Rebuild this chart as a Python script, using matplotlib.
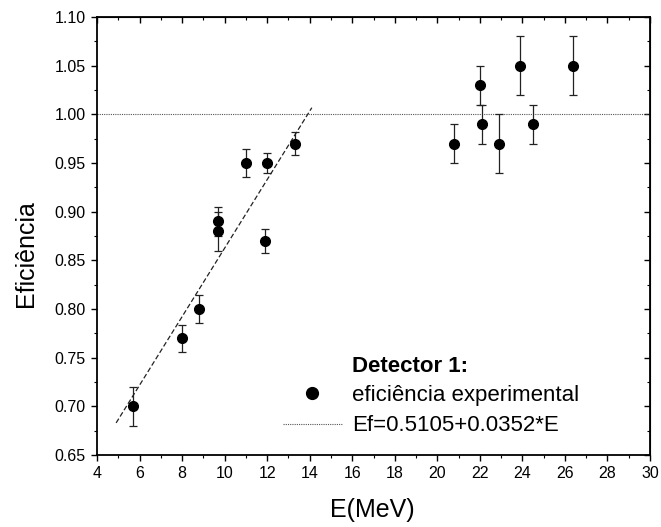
import matplotlib
matplotlib.use("Agg")
import matplotlib.pyplot as plt
from matplotlib.lines import Line2D
from matplotlib.ticker import MultipleLocator, FormatStrFormatter
import numpy as np

plt.rcParams['font.family'] = ['Liberation Sans', 'DejaVu Sans']

# Data
energy = [5.7, 8.0, 8.8, 9.7, 9.7, 11.0, 12.0, 11.9, 13.3,
          20.8, 22.0, 22.1, 22.9, 23.9, 24.5, 26.4]
efficiency = [0.70, 0.77, 0.80, 0.89, 0.88, 0.95, 0.95, 0.87, 0.97,
              0.97, 1.03, 0.99, 0.97, 1.05, 0.99, 1.05]
eff_err = [0.02, 0.014, 0.014, 0.015, 0.02, 0.014, 0.01, 0.012, 0.012,
           0.02, 0.02, 0.02, 0.03, 0.03, 0.02, 0.03]

fit_a = 0.5105
fit_b = 0.0352
fit_range = [4.9, 14.1]
reference_level = 1.0

x_ticks = [4, 6, 8, 10, 12, 14, 16, 18, 20, 22, 24, 26, 28, 30]
y_ticks = [0.65, 0.70, 0.75, 0.80, 0.85, 0.90, 0.95, 1.00, 1.05, 1.10]

W, H = 661, 527
fig = plt.figure(figsize=(W / 100, H / 100), dpi=100)
ax = fig.add_axes([97 / W, 1 - 455 / H, (650 - 97) / W, (455 - 17) / H])

ax.axhline(reference_level, color='#555555', lw=0.8, ls=(0, (1, 1)))

xf = np.array(fit_range)
ax.plot(xf, fit_a + fit_b * xf, color='#222222', lw=0.9, ls=(0, (4, 2)))

ax.errorbar(energy, efficiency, yerr=eff_err, fmt='o', color='black',
            ms=7, ecolor='#222222', elinewidth=0.9, capsize=3, capthick=0.9)

ax.set_xlim(4, 30)
ax.set_ylim(0.65, 1.10)
ax.set_xticks(x_ticks)
ax.set_yticks(y_ticks)
ax.yaxis.set_major_formatter(FormatStrFormatter('%.2f'))
ax.xaxis.set_minor_locator(MultipleLocator(1))
ax.yaxis.set_minor_locator(MultipleLocator(0.025))
ax.tick_params(which='major', direction='out', length=4, width=1, labelsize=11.5, pad=4)
ax.tick_params(which='minor', direction='out', length=2, width=0.8)
for s in ax.spines.values():
    s.set_linewidth(1.3)

secx = ax.secondary_xaxis('top')
secx.set_xticks(x_ticks)
secx.xaxis.set_minor_locator(MultipleLocator(1))
secx.tick_params(which='major', direction='in', length=4, width=1, labeltop=False)
secx.tick_params(which='minor', direction='in', length=2, width=0.8)
secy = ax.secondary_yaxis('right')
secy.set_yticks(y_ticks)
secy.yaxis.set_minor_locator(MultipleLocator(0.025))
secy.tick_params(which='major', direction='in', length=4, width=1, labelright=False)
secy.tick_params(which='minor', direction='in', length=2, width=0.8)

ax.set_xlabel('E(MeV)', fontsize=18, va='center')
ax.xaxis.set_label_coords(0.497, -0.1256)
ax.set_ylabel('Eficiência', fontsize=18, va='center')
ax.yaxis.set_label_coords(-0.128, 0.459)

handles = [
    Line2D([], [], marker='o', ls='none', color='black', ms=8.5),
    Line2D([], [], color='#555555', lw=0.8, ls=(0, (1, 1))),
]
labels = ['eficiência experimental', 'Ef=0.5105+0.0352*E']
leg = ax.legend(handles, labels, loc='upper left',
                bbox_to_anchor=(283 / W, 1 - 385 / H), bbox_transform=fig.transFigure,
                frameon=False, fontsize=16, handlelength=2.65, handletextpad=0.45,
                labelspacing=0.42, borderpad=0, borderaxespad=0)
fig.text(352 / W, 1 - 366 / H, 'Detector 1:', fontsize=16,
         fontweight='bold', ha='left', va='center')

fig.savefig('out.png', dpi=100)
